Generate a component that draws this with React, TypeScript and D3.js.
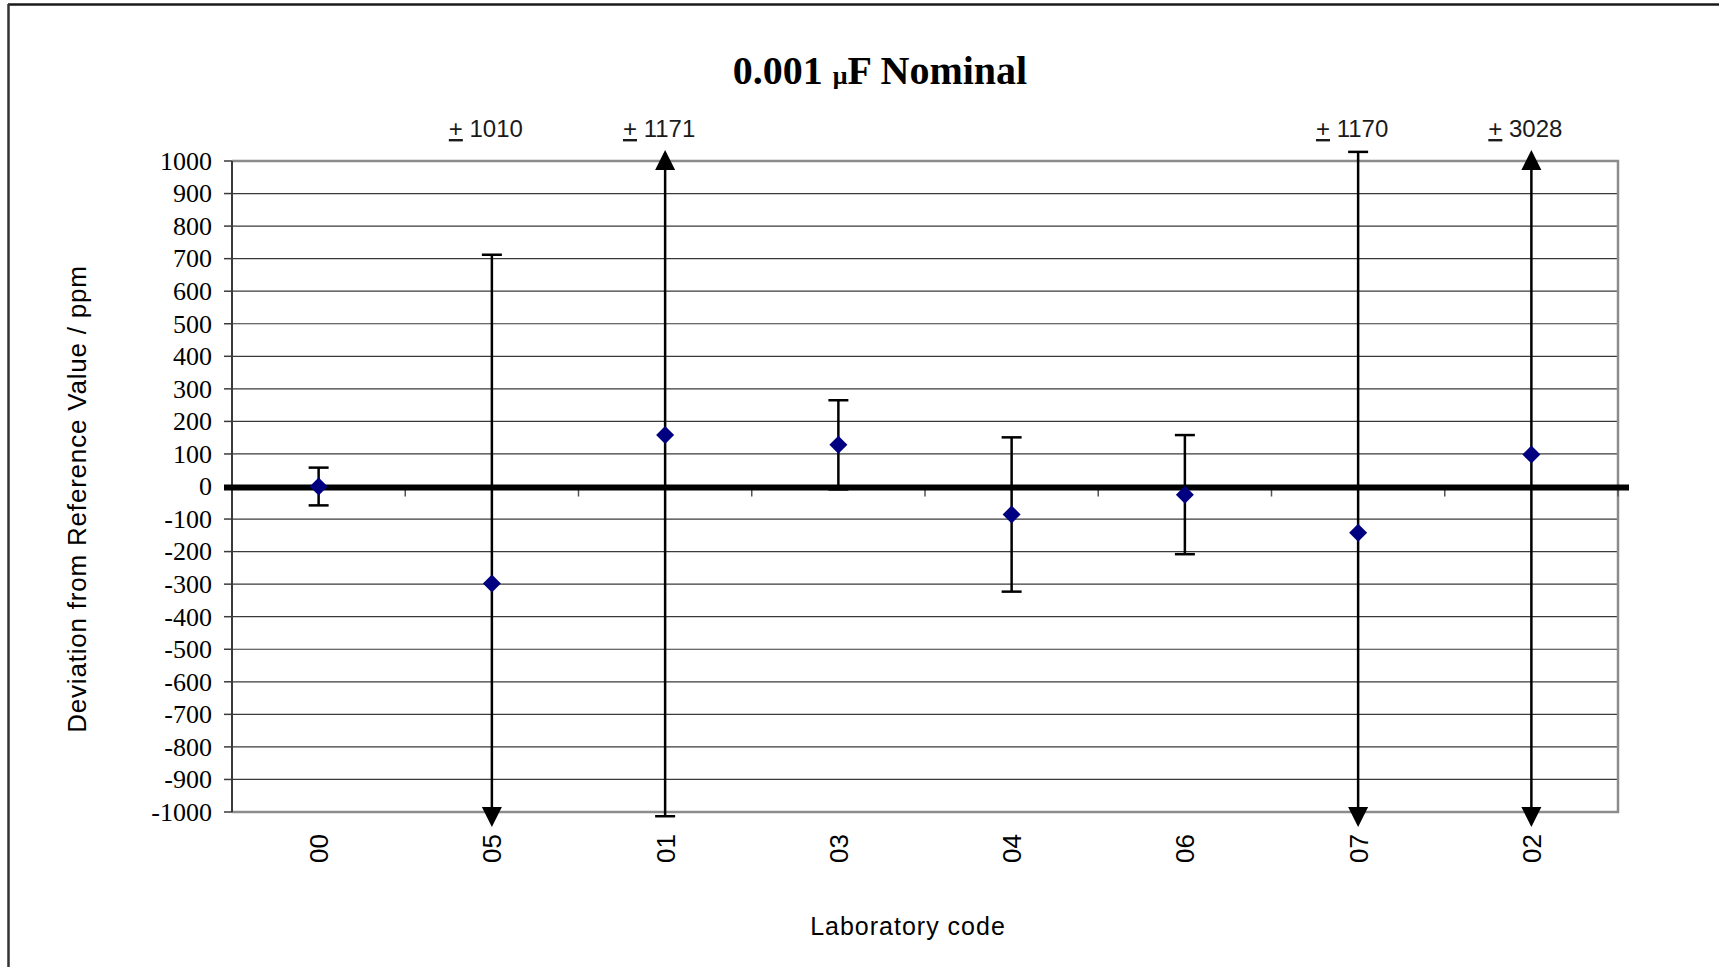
import React, { useEffect, useRef } from "react";
import * as d3 from "d3";

// laboratory codes in plotting order
const labCodes = ["00", "05", "01", "03", "04", "06", "07", "02"];
// deviation from reference value, ppm
const deviations = [0, -298, 158, 128, -86, -25, -142, 98];
// expanded uncertainty (+/-), ppm
const uncertainties = [58, 1010, 1171, 137, 237, 183, 1170, 3028];
const yTicks = [-1000, -900, -800, -700, -600, -500, -400, -300, -200, -100, 0, 100, 200, 300, 400, 500, 600, 700, 800, 900, 1000];

const SERIF = "'Liberation Serif', 'Times New Roman', serif";
const SANS = "'Liberation Sans', Arial, sans-serif";

function App() {
  const ref = useRef<SVGSVGElement>(null);

  useEffect(() => {
    const svg = d3.select(ref.current);
    svg.selectAll("*").remove();

    const W = 1719, H = 967;
    const plot = { left: 232, right: 1618, top: 161, bottom: 812 };

    const x = d3.scaleBand().domain(labCodes).range([plot.left, plot.right]);
    const y = d3.scaleLinear().domain([-1000, 1000]).range([plot.bottom, plot.top]);
    const cx = (d: string) => (x(d) as number) + x.bandwidth() / 2;

    // outer frame (top + left edges visible)
    svg.append("line").attr("x1", 8).attr("x2", W).attr("y1", 4.5).attr("y2", 4.5)
      .attr("stroke", "#1a1a1a").attr("stroke-width", 2.5);
    svg.append("line").attr("x1", 8.5).attr("x2", 8.5).attr("y1", 4).attr("y2", H)
      .attr("stroke", "#333").attr("stroke-width", 2.5);

    // title
    const title = svg.append("text").attr("x", 880).attr("y", 84)
      .attr("text-anchor", "middle").attr("font-family", SERIF)
      .attr("font-weight", "bold").attr("font-size", 40).attr("fill", "#000");
    title.append("tspan").text("0.001 ");
    title.append("tspan").attr("font-size", 26).text("\u03bc");
    title.append("tspan").text("F Nominal");

    // gridlines
    svg.append("g").selectAll("line")
      .data(yTicks.filter((t) => t > -1000 && t < 1000 && t !== 0))
      .join("line")
      .attr("x1", plot.left).attr("x2", plot.right)
      .attr("y1", (d) => y(d)).attr("y2", (d) => y(d))
      .attr("stroke", "#3a3a3a").attr("stroke-width", 1.2);

    // plot border
    svg.append("path")
      .attr("d", `M${plot.left},${plot.top}H${plot.right}V${plot.bottom}H${plot.left}`)
      .attr("fill", "none").attr("stroke", "#8c8c8c").attr("stroke-width", 2.5);

    // y axis
    svg.append("line").attr("x1", plot.left).attr("x2", plot.left)
      .attr("y1", plot.top).attr("y2", plot.bottom)
      .attr("stroke", "#3a3a3a").attr("stroke-width", 2);
    svg.append("g").selectAll("line").data(yTicks).join("line")
      .attr("x1", plot.left - 8).attr("x2", plot.left)
      .attr("y1", (d) => y(d)).attr("y2", (d) => y(d))
      .attr("stroke", "#3a3a3a").attr("stroke-width", 1.5);
    svg.append("g").selectAll("text").data(yTicks).join("text")
      .attr("x", plot.left - 20).attr("y", (d) => y(d)).attr("dy", "0.34em")
      .attr("text-anchor", "end").attr("font-family", SERIF).attr("font-size", 26)
      .attr("fill", "#000").text((d) => d);

    // category ticks hanging from the zero line
    const bounds = labCodes.map((d) => (x(d) as number) + x.bandwidth());
    svg.append("g").selectAll("line").data(bounds).join("line")
      .attr("x1", (d) => d).attr("x2", (d) => d)
      .attr("y1", y(0)).attr("y2", y(0) + 10)
      .attr("stroke", "#555").attr("stroke-width", 1.5);

    // heavy zero line
    svg.append("line").attr("x1", plot.left - 8).attr("x2", plot.right + 11)
      .attr("y1", y(0) + 1).attr("y2", y(0) + 1)
      .attr("stroke", "#000").attr("stroke-width", 6);

    // error bars
    const eb = svg.append("g").attr("stroke", "#000").attr("fill", "#000");
    labCodes.forEach((code, i) => {
      const xc = cx(code);
      const hi = deviations[i] + uncertainties[i];
      const lo = deviations[i] - uncertainties[i];
      const upArrow = hi > 1100;
      const downArrow = lo < -1100;
      const yHi = upArrow ? y(1000) - 8 : y(hi);
      const yLo = downArrow ? y(-1000) + 8 : y(lo);
      eb.append("line").attr("x1", xc).attr("x2", xc).attr("y1", yHi).attr("y2", yLo)
        .attr("stroke-width", 2.5);
      if (upArrow) {
        const t = y(1000) - 11;
        eb.append("path").attr("stroke", "none")
          .attr("d", `M${xc},${t}L${xc + 10},${t + 20}L${xc - 10},${t + 20}Z`);
      } else {
        eb.append("line").attr("x1", xc - 10).attr("x2", xc + 10)
          .attr("y1", yHi).attr("y2", yHi).attr("stroke-width", 2.5);
      }
      if (downArrow) {
        const t = y(-1000) + 15;
        eb.append("path").attr("stroke", "none")
          .attr("d", `M${xc},${t}L${xc + 10},${t - 20}L${xc - 10},${t - 20}Z`);
      } else {
        eb.append("line").attr("x1", xc - 10).attr("x2", xc + 10)
          .attr("y1", yLo).attr("y2", yLo).attr("stroke-width", 2.5);
      }
      // +/- label for off-scale uncertainties
      if (uncertainties[i] >= 1000) {
        const lab = svg.append("text").attr("x", xc - 6).attr("y", 137)
          .attr("text-anchor", "middle").attr("font-family", SANS)
          .attr("font-size", 24).attr("fill", "#1a1a1a");
        lab.append("tspan").style("text-decoration", "underline").text("+");
        lab.append("tspan").text(" " + uncertainties[i]);
      }
    });

    // diamond markers
    svg.append("g").selectAll("path").data(labCodes).join("path")
      .attr("d", (d, i) => {
        const px = cx(d), py = y(deviations[i]);
        return `M${px},${py - 9}L${px + 9},${py}L${px},${py + 9}L${px - 9},${py}Z`;
      })
      .attr("fill", "#000080");

    // category labels (rotated)
    svg.append("g").selectAll("text").data(labCodes).join("text")
      .attr("transform", (d) => `translate(${cx(d)},834) rotate(-90)`)
      .attr("dy", "0.36em").attr("text-anchor", "end")
      .attr("font-family", SANS).attr("font-size", 26).attr("fill", "#000")
      .text((d) => d);

    // axis titles
    svg.append("text").attr("x", 908).attr("y", 935).attr("text-anchor", "middle")
      .attr("font-family", SANS).attr("font-size", 25).attr("letter-spacing", 1)
      .attr("fill", "#000").text("Laboratory code");
    svg.append("text").attr("transform", "translate(77,499) rotate(-90)")
      .attr("dy", "0.36em").attr("text-anchor", "middle")
      .attr("font-family", SANS).attr("font-size", 26).attr("letter-spacing", 0.8)
      .attr("fill", "#000").text("Deviation from Reference Value / ppm");
  }, []);

  return (
    <svg
      ref={ref}
      width={1719}
      height={967}
      style={{ position: "absolute", left: 0, top: 0, background: "#fff" }}
    />
  );
}

export default App;
